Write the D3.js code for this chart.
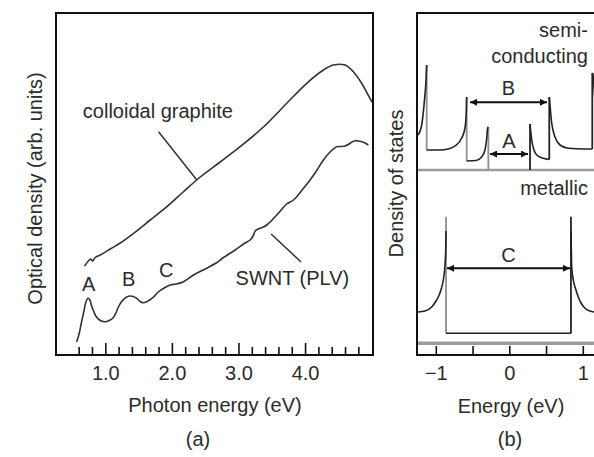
<!DOCTYPE html>
<html>
<head>
<meta charset="utf-8">
<script src="https://cdn.jsdelivr.net/npm/d3@7"></script>
<style>
  body { margin: 0; background: #fff; }
  text { font-family: "Liberation Sans", Arial, sans-serif; font-size: 20px; fill: #2b2b2b; }
</style>
</head>
<body>
<svg id="chart" width="594" height="457"></svg>
<script>
// ---- panel (a): optical density vs photon energy (arb. units) ----
const graphiteE  = [0.69, 0.745, 0.78, 0.81, 0.85, 0.925, 1.075, 1.225, 1.425, 1.675, 1.925, 2.17, 2.425, 2.725, 3.025, 3.375, 3.725, 4.025, 4.275, 4.425, 4.6, 4.725, 4.85, 4.93, 5.005];
const graphiteOD = [90, 95, 97, 95, 98.5, 101, 107, 113, 122.7, 136, 149.3, 164, 179, 194, 209.3, 229, 252.7, 272.7, 286, 291, 291, 284.3, 272.7, 263, 254];

const swntE  = [0.57, 0.61, 0.64, 0.68, 0.705, 0.74, 0.77, 0.79, 0.83, 0.865, 0.925, 0.99, 1.045, 1.115, 1.16, 1.19, 1.24, 1.29, 1.365, 1.42, 1.465, 1.525, 1.565, 1.615, 1.665, 1.725, 1.795, 1.885, 1.975, 2.065, 2.175, 2.325, 2.5, 2.665, 2.775, 2.95, 3.1, 3.175, 3.22, 3.25, 3.295, 3.355, 3.425, 3.575, 3.725, 3.825, 3.955, 4.075, 4.18, 4.275, 4.375, 4.475, 4.54, 4.6, 4.66, 4.705, 4.75, 4.795, 4.85, 4.9, 4.95];
const swntOD = [14, 23, 33, 45, 53, 57.7, 56, 51, 44, 39.3, 35.5, 34.3, 35, 38, 43, 48, 54, 57.7, 60, 59.5, 58, 54.5, 53.3, 54, 56, 59, 64, 68, 71, 72, 74.3, 81, 87, 93, 98.5, 106, 113, 116, 120, 125, 127, 128.5, 131, 141, 152, 156, 166, 176, 186, 196, 204, 209.3, 209.5, 210, 212, 214, 215.3, 215, 214.3, 213, 211];

const majorTicksA = [1, 2, 3, 4];
const minorTicksA = [0.6, 0.8, 1.2, 1.4, 1.6, 1.8, 2.2, 2.4, 2.6, 2.8, 3.2, 3.4, 3.6, 3.8, 4.2, 4.4, 4.6, 4.8];

// peak labels [text, energy, level]
const peakLabels = [["A", 0.75, 65.5], ["B", 1.35, 70], ["C", 1.915, 79.5]];
// curve labels [text, energy, level] and pointer lines [[E1, v1], [E2, v2]]
const curveLabels = [["colloidal graphite", 1.79, 238], ["SWNT (PLV)", 3.81, 71]];
const pointers = [[[1.8, 224.3], [2.375, 176]], [[3.49, 122], [3.94, 94]]];

// ---- panel (b): density of states vs energy ----
const semiBase = 186;
const metalBase = 12.7;
const semiTails = [
  [[-1.242, 221], [-1.192, 231], [-1.154, 256], [-1.133, 276], [-1.124, 291]],
  [[-1.124, 206], [-0.943, 206], [-0.834, 207], [-0.739, 210], [-0.648, 218], [-0.603, 228], [-0.585, 244], [-0.58, 259]],
  [[-0.58, 195], [-0.453, 195.5], [-0.376, 199], [-0.331, 206], [-0.307, 218], [-0.294, 228], [-0.285, 229]],
  [[0.282, 232], [0.305, 216], [0.336, 206], [0.373, 201], [0.463, 197.7], [0.544, 196.5]],
  [[0.544, 259], [0.551, 253], [0.577, 233], [0.622, 219], [0.69, 211], [0.803, 207.7], [1.03, 207], [1.129, 207]],
  [[1.129, 283], [1.139, 281], [1.166, 256], [1.207, 236]]
];
// band edges [energy, low, high]
const semiEdges = [[-1.124, 206, 291], [-0.58, 195, 259], [-0.285, 186, 229], [0.282, 186, 232], [0.544, 196.5, 259], [1.129, 207, 283]];

const metalTails = [
  [[-1.242, 44], [-1.147, 45], [-1.056, 49], [-0.997, 55], [-0.966, 59], [-0.922, 68], [-0.898, 76], [-0.875, 91], [-0.865, 106], [-0.861, 125]],
  [[0.839, 125], [0.844, 106], [0.849, 89], [0.871, 76], [0.907, 66], [0.939, 59], [0.976, 53], [1.03, 47.7], [1.098, 45], [1.152, 44]]
];
const metalEdges = [[-0.861, 22.7, 139.3], [0.839, 22.7, 139.3]];
const metalFloor = [[-0.861, 22.7], [0.839, 22.7]];

// gap arrows [label, from, to, level, labelLevel]
const gapArrows = [["B", -0.534, 0.513, 253.7, 261], ["A", -0.263, 0.254, 202, 208], ["C", -0.848, 0.826, 87.7, 94]];
const ticksB = [-1, -0.5, 0, 0.5, 1];

const svg = d3.select("#chart");

svg.append("defs").append("marker")
   .attr("id", "head")
   .attr("viewBox", "0 0 10 10")
   .attr("refX", 10).attr("refY", 5)
   .attr("markerWidth", 10).attr("markerHeight", 7)
   .attr("markerUnits", "userSpaceOnUse")
   .attr("orient", "auto-start-reverse")
   .append("path").attr("d", "M0,0L10,5L0,10z").attr("fill", "#111");

// scales
let xA = d3.scaleLinear([0.26, 5.02], [56, 373]);
let yA = d3.scaleLinear([0, 343], [356, 13]);
let xB = d3.scaleLinear([-1, 1], [435.8, 582.8]);
let yB = d3.scaleLinear([0, 343], [356, 13]);

//   panel (a)
let lineA = d3.line().x(d => xA(d[0])).y(d => yA(d[1])).curve(d3.curveCatmullRom.alpha(0.5));

svg.append("path")
   .attr("d", lineA(d3.zip(graphiteE, graphiteOD)))
   .attr("fill", "none").attr("stroke", "#333").attr("stroke-width", 1.6);

svg.append("path")
   .attr("d", lineA(d3.zip(swntE, swntOD)))
   .attr("fill", "none").attr("stroke", "#333").attr("stroke-width", 1.6);

svg.selectAll(".pointer")
   .data(pointers)
   .enter().append("line")
   .attr("x1", d => xA(d[0][0])).attr("y1", d => yA(d[0][1]))
   .attr("x2", d => xA(d[1][0])).attr("y2", d => yA(d[1][1]))
   .attr("stroke", "#333").attr("stroke-width", 1.5);

svg.selectAll(".curveLabel")
   .data(curveLabels.concat(peakLabels))
   .enter().append("text")
   .attr("x", d => xA(d[1])).attr("y", d => yA(d[2]))
   .attr("text-anchor", "middle")
   .text(d => d[0]);

let axisA = svg.append("g").attr("transform", "translate(0,355)");
axisA.call(d3.axisBottom(xA).tickValues(minorTicksA).tickSize(-8).tickFormat(""));
axisA.append("g").call(d3.axisBottom(xA).tickValues(majorTicksA).tickSize(-12).tickPadding(11).tickFormat(d3.format(".1f")));
axisA.selectAll(".domain").remove();
axisA.selectAll("line").attr("stroke", "#111").attr("stroke-width", 1.6);

svg.append("rect")
   .attr("x", 56).attr("y", 13).attr("width", 317).attr("height", 342)
   .attr("fill", "none").attr("stroke", "#111").attr("stroke-width", 2);

svg.append("text").attr("x", 215).attr("y", 411.5).attr("text-anchor", "middle").text("Photon energy (eV)");
svg.append("text").attr("x", 198).attr("y", 446).attr("text-anchor", "middle").text("(a)");
svg.append("text").attr("transform", "translate(42,188.5) rotate(-90)").attr("text-anchor", "middle").text("Optical density (arb. units)");

//   panel (b)
let lineB = d3.line().x(d => xB(d[0])).y(d => yB(d[1])).curve(d3.curveMonotoneX);

svg.selectAll(".base")
   .data([[semiBase, 2.5], [metalBase, 3.5]])
   .enter().append("line")
   .attr("x1", 417).attr("x2", 600)
   .attr("y1", d => yB(d[0])).attr("y2", d => yB(d[0]))
   .attr("stroke", "#9a9a9a").attr("stroke-width", d => d[1]);

svg.selectAll(".edge")
   .data(semiEdges.concat(metalEdges))
   .enter().append("line")
   .attr("x1", d => xB(d[0])).attr("x2", d => xB(d[0]))
   .attr("y1", d => yB(d[1])).attr("y2", d => yB(d[2]))
   .attr("stroke", d => d[0] < 0 ? "#8f8f8f" : "#222")
   .attr("stroke-width", 1.8);

svg.selectAll(".tail")
   .data(semiTails.concat(metalTails, [metalFloor]))
   .enter().append("path")
   .attr("d", d => lineB(d))
   .attr("fill", "none").attr("stroke", "#222").attr("stroke-width", 1.6);

svg.selectAll(".gap")
   .data(gapArrows)
   .enter().append("line")
   .attr("x1", d => xB(d[1])).attr("x2", d => xB(d[2]))
   .attr("y1", d => yB(d[3])).attr("y2", d => yB(d[3]))
   .attr("stroke", "#111").attr("stroke-width", 2)
   .attr("marker-start", "url(#head)").attr("marker-end", "url(#head)");

svg.selectAll(".gapLabel")
   .data(gapArrows)
   .enter().append("text")
   .attr("x", d => xB((d[1] + d[2]) / 2)).attr("y", d => yB(d[4]))
   .attr("text-anchor", "middle")
   .text(d => d[0]);

svg.selectAll(".kind")
   .data([["semi-", 319.5], ["conducting", 293.5], ["metallic", 161]])
   .enter().append("text")
   .attr("x", xB(1.07)).attr("y", d => yB(d[1]))
   .attr("text-anchor", "end")
   .text(d => d[0]);

let axisB = svg.append("g").attr("transform", "translate(0,355)");
axisB.call(d3.axisBottom(xB).tickValues(ticksB).tickSize(-9).tickPadding(11)
     .tickFormat(d => Number.isInteger(d) ? d3.format("")(d) : ""));
axisB.selectAll(".domain").remove();
axisB.selectAll("line").attr("stroke", "#111").attr("stroke-width", 1.6);

svg.append("rect")
   .attr("x", 417).attr("y", 13).attr("width", 200).attr("height", 342)
   .attr("fill", "none").attr("stroke", "#111").attr("stroke-width", 2);

svg.append("text").attr("x", 511).attr("y", 413).attr("text-anchor", "middle").text("Energy (eV)");
svg.append("text").attr("x", 510).attr("y", 446).attr("text-anchor", "middle").text("(b)");
svg.append("text").attr("transform", "translate(403,183.5) rotate(-90)").attr("text-anchor", "middle").text("Density of states");
</script>
</body>
</html>
